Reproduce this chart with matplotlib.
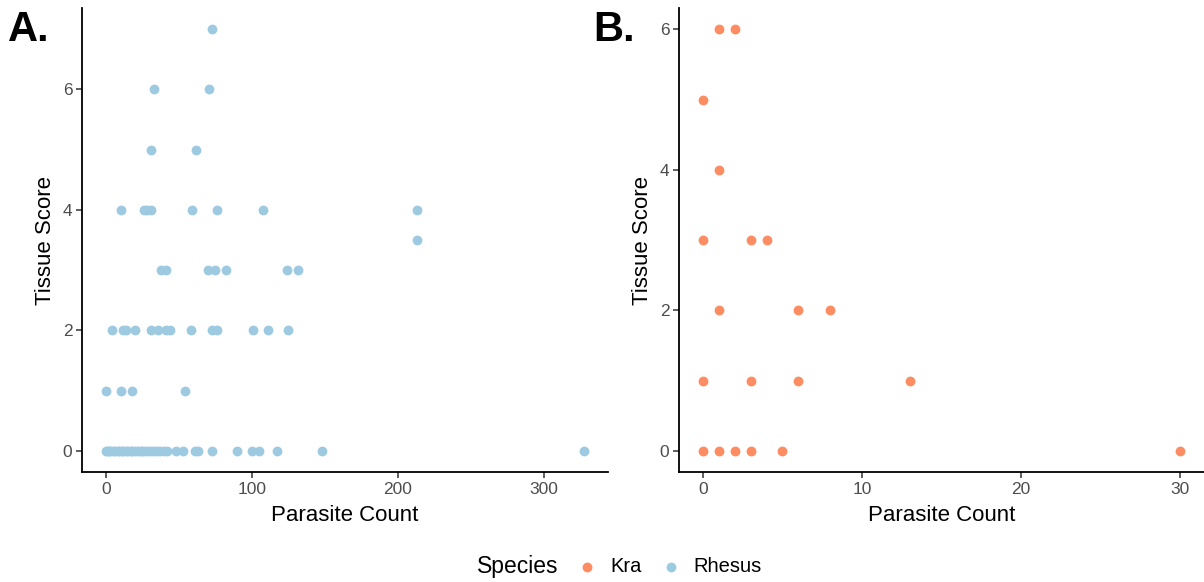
import matplotlib
matplotlib.use("Agg")
import matplotlib.pyplot as plt

plt.rcParams['font.family'] = ['Liberation Sans', 'DejaVu Sans']

# Panel A: Rhesus
rhesus_count = [
    73, 33, 71, 31, 62,
    10, 26, 28, 31, 59, 76, 108, 213,
    213,
    38, 41, 70, 75, 82, 124, 132,
    4, 12, 14, 20, 31, 36, 41, 44, 58, 73, 76, 101, 111, 125,
    0, 10, 18, 54,
    0, 1, 2, 3, 5, 6, 8, 9, 11, 12, 14, 15, 17, 18, 20, 22, 24, 25, 27, 29,
    31, 33, 35, 37, 40, 42, 48, 53, 61, 63, 73, 90, 100, 105, 117, 148, 328,
]
rhesus_score = [
    7, 6, 6, 5, 5,
    4, 4, 4, 4, 4, 4, 4, 4,
    3.5,
    3, 3, 3, 3, 3, 3, 3,
    2, 2, 2, 2, 2, 2, 2, 2, 2, 2, 2, 2, 2, 2,
    1, 1, 1, 1,
    0, 0, 0, 0, 0, 0, 0, 0, 0, 0, 0, 0, 0, 0, 0, 0, 0, 0, 0, 0,
    0, 0, 0, 0, 0, 0, 0, 0, 0, 0, 0, 0, 0, 0, 0, 0, 0,
]

# Panel B: Kra
kra_count = [1, 2, 0, 1, 0, 3, 4, 1, 6, 8, 0, 3, 6, 13, 0, 1, 2, 3, 5, 30]
kra_score = [6, 6, 5, 4, 3, 3, 3, 2, 2, 2, 1, 1, 1, 1, 0, 0, 0, 0, 0, 0]

kra_col = '#FC8D62'
rhesus_col = '#9ECAE1'

fig = plt.figure(figsize=(12.04, 5.82), dpi=100)
axA = fig.add_axes([0.0681, 0.189, 0.4369, 0.797])
axB = fig.add_axes([0.564, 0.189, 0.436, 0.797])

hR = axA.scatter(rhesus_count, rhesus_score, s=50, color=rhesus_col,
                 linewidths=0, label='Rhesus', zorder=3)
hK = axB.scatter(kra_count, kra_score, s=50, color=kra_col,
                 linewidths=0, label='Kra', zorder=3)

axA.set_xlim(-16.4, 344.2)
axA.set_ylim(-0.35, 7.35)
axA.set_xticks([0, 100, 200, 300])
axA.set_yticks([0, 2, 4, 6])

axB.set_xlim(-1.5, 31.5)
axB.set_ylim(-0.3, 6.3)
axB.set_xticks([0, 10, 20, 30])
axB.set_yticks([0, 2, 4, 6])

for ax in (axA, axB):
    for s in ('top', 'right'):
        ax.spines[s].set_visible(False)
    for s in ('left', 'bottom'):
        ax.spines[s].set_linewidth(1.3)
        ax.spines[s].set_color('black')
    ax.tick_params(length=4, width=1.1, color='#333333', labelcolor='#4D4D4D',
                   labelsize=12.5, pad=3)
    ax.set_xlabel('Parasite Count', fontsize=16, labelpad=6)
    ax.set_ylabel('Tissue Score', fontsize=16, labelpad=5)

fig.text(0.007, 0.982, 'A.', fontsize=30, fontweight='bold', va='top', ha='left')
fig.text(0.493, 0.982, 'B.', fontsize=30, fontweight='bold', va='top', ha='left')

fig.text(0.396, 0.026, 'Species', fontsize=16.5, va='center', ha='left')
fig.legend(handles=[hK, hR], labels=['Kra', 'Rhesus'], loc='center left',
           bbox_to_anchor=(0.479, 0.026), ncol=2, frameon=False, fontsize=14.5,
           handlelength=1.0, handletextpad=0.65, columnspacing=0.95,
           markerscale=1.0, borderaxespad=0, borderpad=0)

fig.savefig('out.png', dpi=100)
